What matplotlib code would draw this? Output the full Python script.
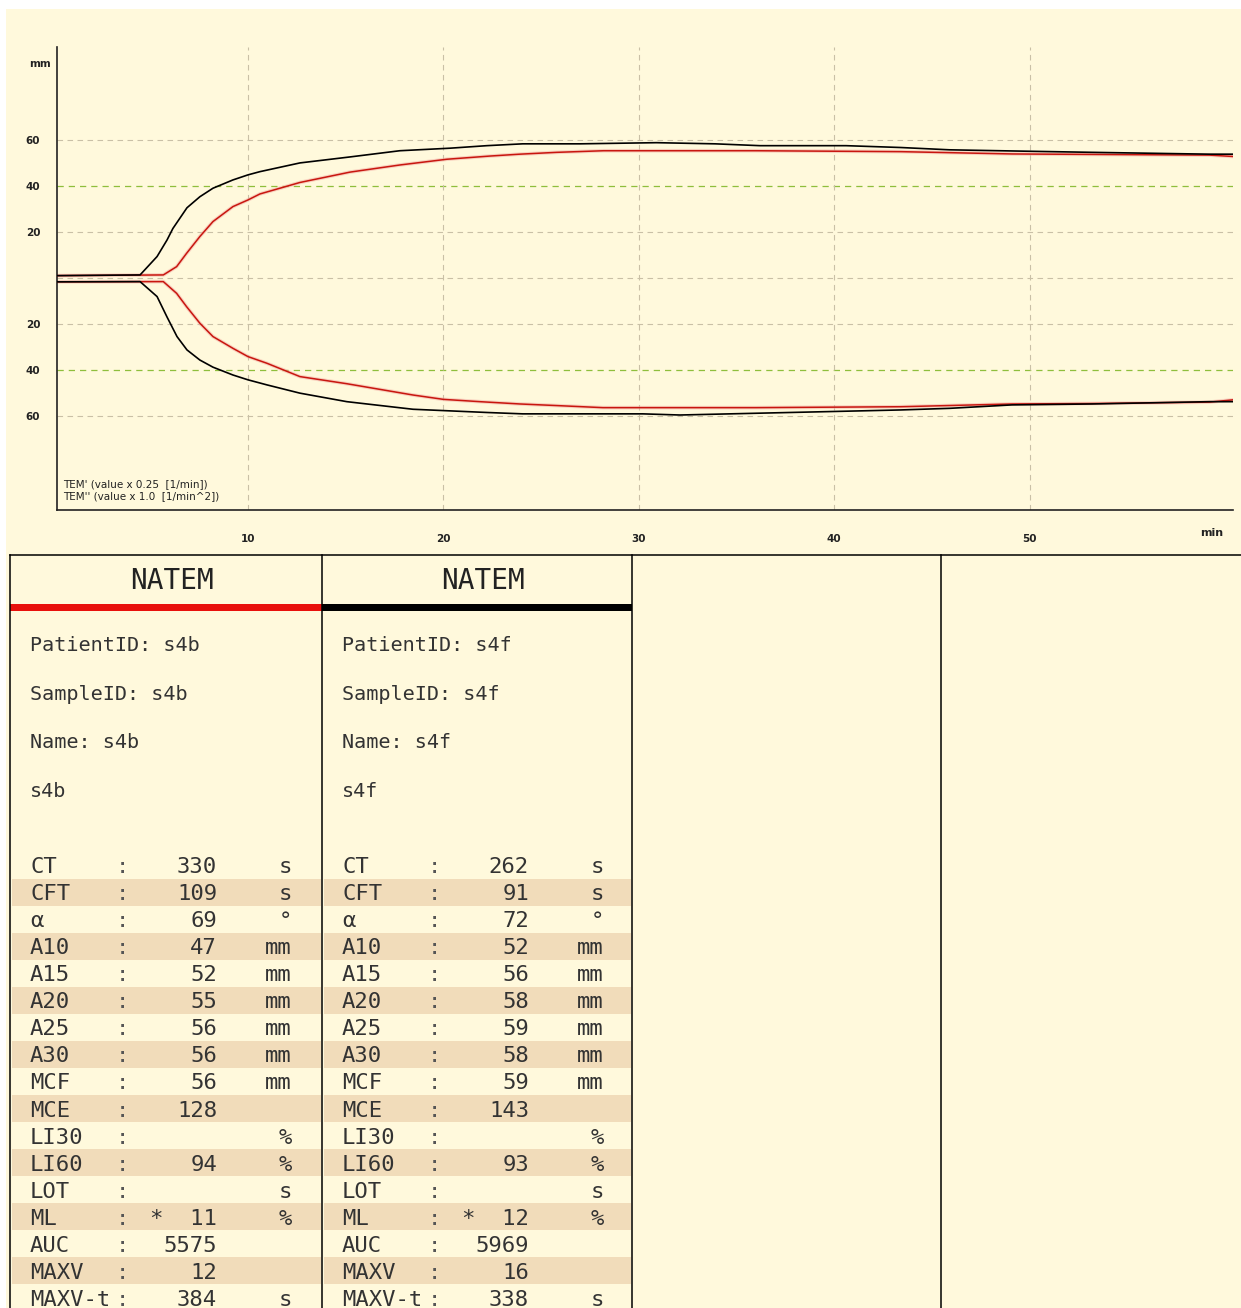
import matplotlib
matplotlib.use("Agg")
import matplotlib.pyplot as plt
from matplotlib.patches import Rectangle

# ---- curve data (time in min, amplitude in mm) ----
black_up_t = [0.23, 4.48, 5.35, 5.86, 6.16, 6.88, 7.54, 8.21, 9.23, 10.0, 10.61, 12.66,
              15.22, 17.77, 20.33, 22.22, 24.06, 27.0, 30.9, 33.9, 36.2, 40.6, 43.4,
              45.9, 49.1, 53.2, 59.2, 60.4]
black_up_v = [1.0, 1.3, 9.3, 16.5, 21.5, 30.5, 35.3, 39.0, 42.6, 44.8, 46.2, 50.0,
              52.6, 55.3, 56.4, 57.5, 58.3, 58.3, 58.8, 58.3, 57.5, 57.5, 56.7,
              55.7, 55.2, 54.6, 53.8, 53.8]

black_lo_t = [0.23, 4.48, 5.35, 5.86, 6.37, 6.88, 7.54, 8.21, 9.23, 10.0, 10.97, 12.66,
              15.06, 18.44, 20.33, 22.22, 24.06, 30.2, 32.1, 36.2, 43.4, 45.9, 49.1,
              53.2, 59.2, 60.4]
black_lo_v = [-1.7, -1.6, -8.1, -17.0, -25.5, -31.3, -35.7, -38.8, -42.2, -44.3, -46.5, -50.1,
              -53.8, -57.1, -57.8, -58.5, -59.1, -59.1, -59.6, -58.8, -57.4, -56.7, -55.2,
              -54.8, -53.8, -53.8]

red_up_t = [0.23, 5.67, 6.35, 6.86, 7.54, 8.21, 9.23, 10.0, 10.61, 12.66, 15.22, 17.77,
            20.18, 22.4, 23.9, 25.8, 28.2, 36.0, 43.4, 49.1, 59.2, 60.4]
red_up_v = [1.0, 1.3, 4.9, 10.7, 18.0, 24.5, 31.0, 33.9, 36.5, 41.5, 46.0, 49.1,
            51.6, 53.0, 53.8, 54.6, 55.3, 55.3, 54.9, 53.9, 53.4, 52.8]

red_lo_t = [0.23, 5.67, 6.35, 6.86, 7.54, 8.21, 9.23, 10.0, 10.97, 11.64, 12.66, 15.06,
            18.44, 20.0, 21.87, 23.91, 25.81, 28.16, 36.0, 43.4, 49.1, 53.2, 59.2, 60.4]
red_lo_v = [-1.7, -1.6, -6.7, -12.5, -19.7, -25.5, -30.6, -34.2, -37.1, -39.4, -42.9, -46.0,
            -50.9, -52.8, -53.8, -54.8, -55.5, -56.4, -56.4, -56.0, -54.8, -54.6, -54.0, -53.0]

x_ticks = [10, 20, 30, 40, 50]
y_ticks = [-60, -40, -20, 20, 40, 60]
y_tick_labels = ['60', '40', '20', '20', '40', '60']

# ---- result table ----
assay = ['NATEM', 'NATEM']
bar_colors = ['#E8100C', '#000000']
info_b = ['PatientID: s4b', 'SampleID: s4b', 'Name: s4b', 's4b']
info_f = ['PatientID: s4f', 'SampleID: s4f', 'Name: s4f', 's4f']
params = ['CT', 'CFT', 'α', 'A10', 'A15', 'A20', 'A25', 'A30', 'MCF', 'MCE',
          'LI30', 'LI60', 'LOT', 'ML', 'AUC', 'MAXV', 'MAXV-t']
units = ['s', 's', '°', 'mm', 'mm', 'mm', 'mm', 'mm', 'mm', '',
         '%', '%', 's', '%', '', '', 's']
values_b = ['330', '109', '69', '47', '52', '55', '56', '56', '56', '128',
            '', '94', '', '*  11', '5575', '12', '384']
values_f = ['262', '91', '72', '52', '56', '58', '59', '58', '59', '143',
            '', '93', '', '*  12', '5969', '16', '338']

W, H = 1241, 1308
BG = '#FFF9DC'
SHADE = '#F1DCBA'
MONO = 'DejaVu Sans Mono'

fig = plt.figure(figsize=(W / 100, H / 100), dpi=100, facecolor='white')

# full-figure pixel axes for background and table
bg = fig.add_axes([0, 0, 1, 1])
bg.set_xlim(0, W)
bg.set_ylim(H, 0)
bg.axis('off')
bg.add_patch(Rectangle((6, 9), W, H, facecolor=BG, edgecolor='none', zorder=0))

col_left = [10, 322, 632, 941]
for xl in col_left:
    bg.plot([xl, xl], [555, H], color='black', lw=1.1, zorder=3)
bg.plot([10, W], [555, 555], color='black', lw=1.1, zorder=3)

row_y0 = 865
row_dy = 27.06
for c, (name, bc, info, vals) in enumerate(zip(assay, bar_colors,
                                                [info_b, info_f],
                                                [values_b, values_f])):
    x0 = col_left[c]
    x1 = col_left[c + 1]
    bg.text((x0 + x1) / 2 + 6, 589, name, family=MONO, fontsize=20,
            ha='center', va='baseline', color='#222222')
    bg.add_patch(Rectangle((x0, 604), x1 - x0, 7, facecolor=bc,
                           edgecolor='none', zorder=2))
    for i, line in enumerate(info):
        bg.text(x0 + 20, 651 + i * 48.7, line, family=MONO, fontsize=14.5,
                ha='left', va='baseline', color='#333333')
    for i, p in enumerate(params):
        yc = row_y0 + i * row_dy
        if i % 2 == 1:
            bg.add_patch(Rectangle((x0 + 2, yc - 13.5), x1 - x0 - 3, row_dy,
                                   facecolor=SHADE, edgecolor='none', zorder=1))
        yb = yc + 8
        bg.text(x0 + 20, yb, p, family=MONO, fontsize=16, ha='left',
                va='baseline', color='#333333', zorder=2)
        bg.text(x0 + 112, yb, ':', family=MONO, fontsize=16, ha='center',
                va='baseline', color='#555555', zorder=2)
        bg.text(x0 + 207, yb, vals[i], family=MONO, fontsize=16, ha='right',
                va='baseline', color='#333333', zorder=2)
        bg.text(x0 + 282, yb, units[i], family=MONO, fontsize=16, ha='right',
                va='baseline', color='#333333', zorder=2)

# axis extra labels
bg.text(40, 64, 'mm', fontsize=7.5, fontweight='bold', ha='center',
        va='center', color='#222222')
bg.text(1212, 533, 'min', fontsize=8, fontweight='bold', ha='center',
        va='center', color='#222222')

# ---- TEM trace axes ----
ax = fig.add_axes([57 / W, 1 - 510 / H, (1233 - 57) / W, (510 - 47) / H])
ax.patch.set_alpha(0)
ax.set_xlim(0.23, 60.4)
ax.set_ylim(-100.9, 100.4)

grid_gray = '#C9C0A6'
grid_green = '#8FBE3C'
for yv in [-60, -20, 0, 20, 60]:
    ax.axhline(yv, color=grid_gray, lw=0.8, ls=(0, (5, 4)), zorder=1)
for yv in [-40, 40]:
    ax.axhline(yv, color=grid_green, lw=0.9, ls=(0, (5, 4)), zorder=1)
for xv in x_ticks:
    ax.axvline(xv, color=grid_gray, lw=0.8, ls=(0, (5, 4)), zorder=1)

ax.plot(red_up_t, red_up_v, color='#F2A8A0', lw=2.6, alpha=0.5, zorder=2)
ax.plot(red_lo_t, red_lo_v, color='#F2A8A0', lw=2.6, alpha=0.5, zorder=2)
ax.plot(red_up_t, red_up_v, color='#C8160F', lw=1.1, zorder=3)
ax.plot(red_lo_t, red_lo_v, color='#C8160F', lw=1.1, zorder=3)
ax.plot(black_up_t, black_up_v, color='black', lw=1.2, zorder=4)
ax.plot(black_lo_t, black_lo_v, color='black', lw=1.2, zorder=4)

ax.set_xticks(x_ticks)
ax.set_xticklabels([str(v) for v in x_ticks], fontweight='bold')
ax.set_yticks(y_ticks)
ax.set_yticklabels(y_tick_labels, fontweight='bold')
ax.tick_params(length=0, labelsize=7.5, labelcolor='#222222')
ax.tick_params(axis='y', pad=12)
ax.tick_params(axis='x', pad=17)
for s in ['top', 'right']:
    ax.spines[s].set_visible(False)
for s in ['left', 'bottom']:
    ax.spines[s].set_linewidth(1.2)
    ax.spines[s].set_color('#222222')

ax.text(0.005, 0.056, "TEM' (value x 0.25  [1/min])", transform=ax.transAxes,
        fontsize=7.5, ha='left', va='center', color='#222222')
ax.text(0.005, 0.031, "TEM'' (value x 1.0  [1/min^2])", transform=ax.transAxes,
        fontsize=7.5, ha='left', va='center', color='#222222')

fig.savefig('out.png', dpi=100, facecolor='white')
